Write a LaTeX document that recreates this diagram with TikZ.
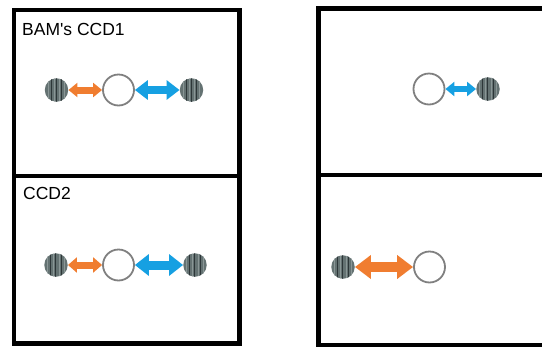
\documentclass[tikz,border=0pt]{standalone}
\usepackage{fontspec}
\newfontfamily\labfont{Liberation Sans}
\usetikzlibrary{arrows.meta}
\definecolor{arrorange}{RGB}{240,125,48}
\definecolor{arrblue}{RGB}{22,160,226}
\definecolor{ringgray}{RGB}{128,128,128}
\definecolor{stripebase}{RGB}{100,114,114}
\definecolor{stripedark}{RGB}{45,54,56}
\definecolor{stripelight}{RGB}{138,150,150}
\tikzset{
  frame/.style={line width=4.5pt, draw=black},
  label/.style={anchor=base west, inner sep=0pt, font=\labfont\fontsize{17.5pt}{20pt}\selectfont},
  ring/.style={circle, draw=ringgray, line width=1.8pt, fill=white, minimum size=31pt, inner sep=0pt},
  striped/.style={circle, inner sep=0pt, minimum size=23.5pt, fill=stripebase,
    path picture={
      \foreach \dx/\c/\w in {3/stripelight/1, 6/stripedark/0.8, 9/stripelight/1.2, 11/stripedark/1.2, 14.5/stripelight/1, 16.5/stripedark/0.8, 19.5/stripelight/1}
        \fill[\c] ([xshift=\dx pt]path picture bounding box.south west) rectangle ++(\w pt, 30pt);
    }},
  dblarrow/.style n args={4}{draw=#1, line width=#2,
    {Triangle[length=#3, width=#4]}-{Triangle[length=#3, width=#4]}}
}
\begin{document}
\begin{tikzpicture}[x=1pt, y=-1pt]
\useasboundingbox (0,0) rectangle (542,349);
% frames
\draw[frame] (14,10) rectangle (239.5,343.5);
\draw[frame] (14,176) -- (239.5,176);
\draw[frame] (545,8.5) -- (318.5,8.5) -- (318.5,345) -- (545,345);
\draw[frame] (318.5,175) -- (545,175);
% labels
\node[label] (t1) at (22,35) {BAM\textquotesingle s CCD1};
\node[label] (t2) at (23,199) {CCD2};
% top-left
\node[striped] (s1) at (56.5,90) {};
\node[ring] (o1) at (118.5,90) {};
\node[striped] (s2) at (191.5,90) {};
\draw[dblarrow={arrorange}{7pt}{9pt}{14pt}] (s1) -- (o1);
\draw[dblarrow={arrblue}{8pt}{13pt}{19pt}] (o1) -- (s2);
% bottom-left
\node[striped] (s3) at (56,265) {};
\node[ring] (o2) at (118.5,265) {};
\node[striped] (s4) at (195,265) {};
\draw[dblarrow={arrorange}{7pt}{9pt}{15pt}] (s3) -- (o2);
\draw[dblarrow={arrblue}{9pt}{14pt}{21pt}] (o2) -- (s4);
% top-right
\node[ring] (o3) at (429,89) {};
\node[striped] (s5) at (488,89) {};
\draw[dblarrow={arrblue}{5.5pt}{9pt}{14pt}] (o3) -- (s5);
% bottom-right
\node[striped] (s6) at (343,267) {};
\node[ring] (o4) at (429.5,267) {};
\draw[dblarrow={arrorange}{10pt}{16pt}{23pt}] (s6) -- (o4);
\end{tikzpicture}
\end{document}
